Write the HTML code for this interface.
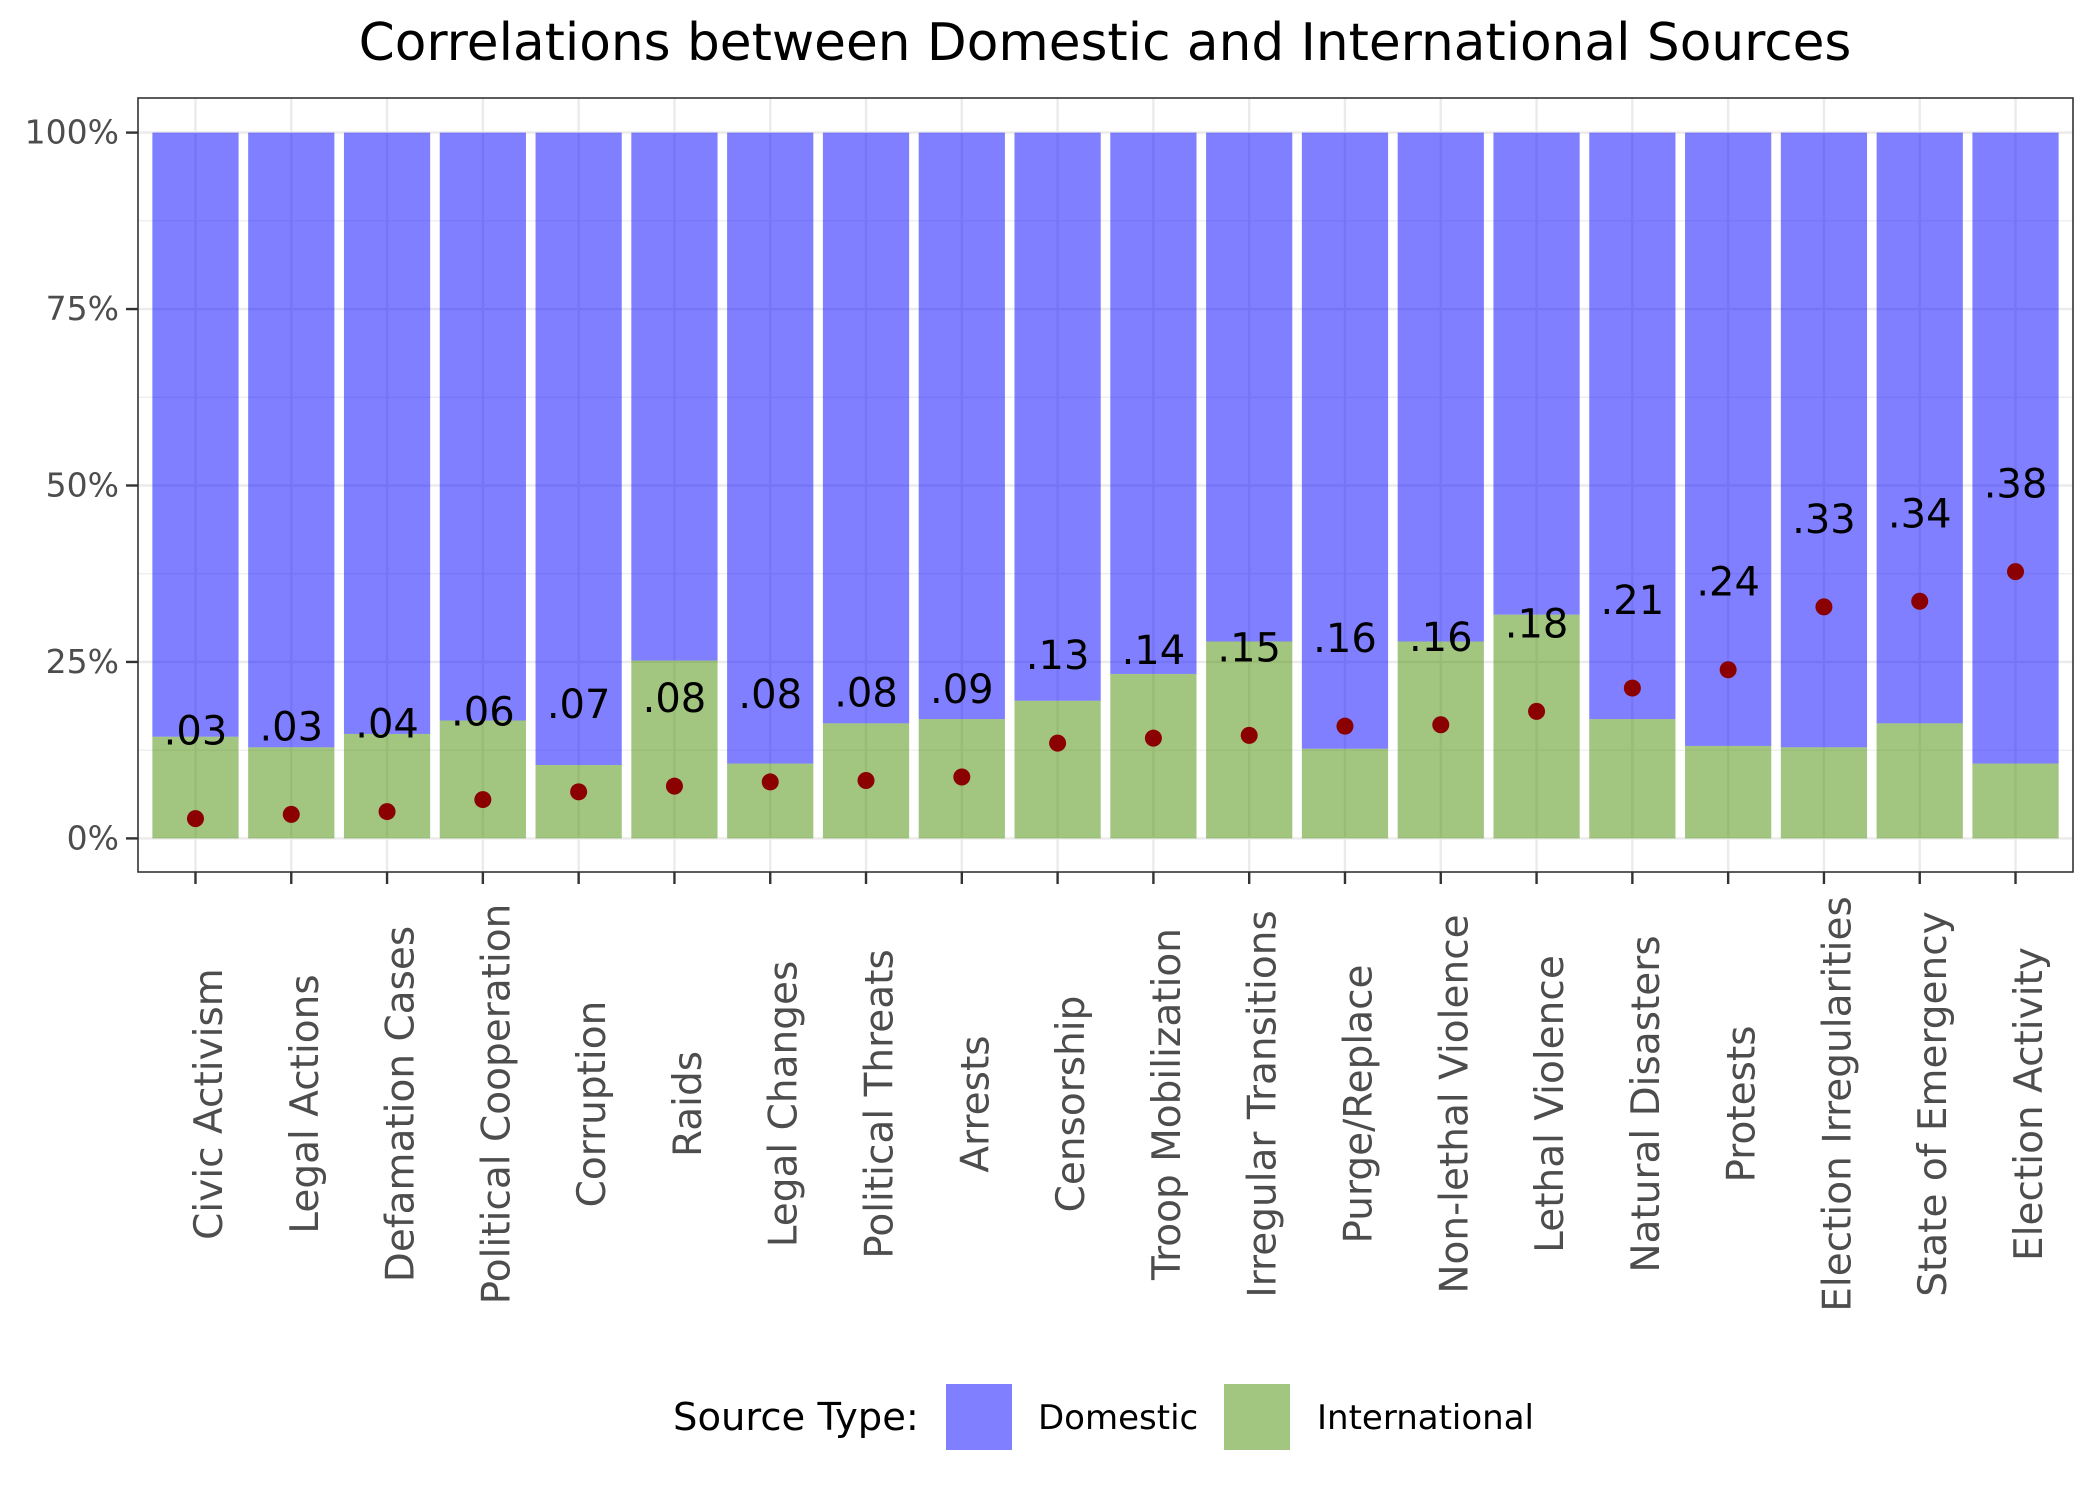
<!DOCTYPE html>
<html><head><meta charset="utf-8">
<style>
html,body{margin:0;padding:0;background:#fff;}
svg{display:block;font-family:"DejaVu Sans","Liberation Sans",sans-serif;}
</style></head>
<body>
<svg id="chart" width="2100" height="1500" viewBox="0 0 2100 1500" xmlns="http://www.w3.org/2000/svg">
<rect width="2100" height="1500" fill="#fff"/>
<text x="1105" y="60" font-size="51.7" text-anchor="middle" fill="#000">Correlations between Domestic and International Sources</text>
<g id="grid"></g>
<g id="bars"></g>
<g id="dots"></g>
<g id="labels"></g>
<rect x="138" y="98" width="1935" height="774" fill="none" stroke="#333" stroke-width="1.6"/>
<g id="axes"></g>
<g>
<text x="673" y="1430" font-size="38.5" fill="#000">Source Type:</text>
<rect x="946" y="1384" width="66" height="66" fill="#0000ff" fill-opacity="0.5"/>
<text x="1038" y="1429" font-size="34" fill="#000">Domestic</text>
<rect x="1224" y="1384" width="66" height="66" fill="#458b00" fill-opacity="0.5"/>
<text x="1317" y="1429" font-size="34" fill="#000">International</text>
</g>
</svg>
<script>
const categories = ["Civic Activism","Legal Actions","Defamation Cases","Political Cooperation","Corruption","Raids","Legal Changes","Political Threats","Arrests","Censorship","Troop Mobilization","Irregular Transitions","Purge/Replace","Non-lethal Violence","Lethal Violence","Natural Disasters","Protests","Election Irregularities","State of Emergency","Election Activity"];
const internationalShare = [14.4,12.9,14.8,16.7,10.4,25.2,10.6,16.3,16.9,19.5,23.3,27.9,12.7,27.9,31.7,16.9,13.1,12.9,16.3,10.6];
const correlations = [0.028,0.034,0.038,0.055,0.066,0.074,0.080,0.082,0.087,0.135,0.142,0.146,0.159,0.161,0.180,0.213,0.239,0.328,0.336,0.378];
const corrLabels = [".03",".03",".04",".06",".07",".08",".08",".08",".09",".13",".14",".15",".16",".16",".18",".21",".24",".33",".34",".38"];
const yTicks = [0,25,50,75,100];
const yTickLabels = ["0%","25%","50%","75%","100%"];

const NS="http://www.w3.org/2000/svg";
const px0=138, px1=2073, y0=838.4, y100=132.6;
const n=categories.length;
const step=(px1-px0)/(n+0.2);
function xs(i){return px0+step*0.6+step*i;}
function ys(v){return y0+(y100-y0)*v/100;}
const bw=step*0.9;
function mk(tag,attrs,parent){const e=document.createElementNS(NS,tag);for(const k in attrs)e.setAttribute(k,attrs[k]);parent.appendChild(e);return e;}
const grid=document.getElementById('grid'),bars=document.getElementById('bars'),dots=document.getElementById('dots'),labels=document.getElementById('labels'),axes=document.getElementById('axes');
for(let v=0;v<=100;v+=12.5){
  const major=v%25===0;
  const l=mk('line',{x1:px0,x2:px1,y1:ys(v),y2:ys(v),stroke:'#ebebeb','stroke-width':major?2.4:1.2},grid);
  
  
}
for(let i=0;i<n;i++){
  const l=mk('line',{x1:xs(i),x2:xs(i),y1:98,y2:872,stroke:'#ebebeb','stroke-width':2.4},grid);
  
  
}
for(let i=0;i<n;i++){
  const x=xs(i)-bw/2, s=internationalShare[i];
  const d=mk('rect',{x:x,y:ys(100),width:bw,height:ys(s)-ys(100),fill:'#0000ff','fill-opacity':0.5},bars);
  
  
  const g=mk('rect',{x:x,y:ys(s),width:bw,height:ys(0)-ys(s),fill:'#458b00','fill-opacity':0.5},bars);
  
  
  const c=mk('ellipse',{cx:xs(i),cy:ys(correlations[i]*100),rx:8.5,ry:8.5,fill:'#8b0000'},dots);
  
  
  const t=mk('text',{x:xs(i),y:ys(correlations[i]*100)-74,'font-size':40,'text-anchor':'middle',fill:'#000'},labels);
  t.textContent=corrLabels[i];
  
  
  const tk=mk('line',{x1:xs(i),x2:xs(i),y1:872,y2:884,stroke:'#333','stroke-width':2.4},axes);
  
  
  const xl=mk('text',{x:0,y:0,'font-size':39,'text-anchor':'middle','dominant-baseline':'central',fill:'#4d4d4d',transform:`translate(${xs(i)+14},1104) rotate(-90)`},axes);
  xl.textContent=categories[i];
  
  
}
for(let k=0;k<yTicks.length;k++){
  const y=ys(yTicks[k]);
  const tk=mk('line',{x1:126,x2:138,y1:y,y2:y,stroke:'#333','stroke-width':2.4},axes);
  
  
  const t=mk('text',{x:119,y:y+11,'font-size':33,'text-anchor':'end',fill:'#4d4d4d'},axes);
  t.textContent=yTickLabels[k];
  
  
}
</script>
</body></html>
